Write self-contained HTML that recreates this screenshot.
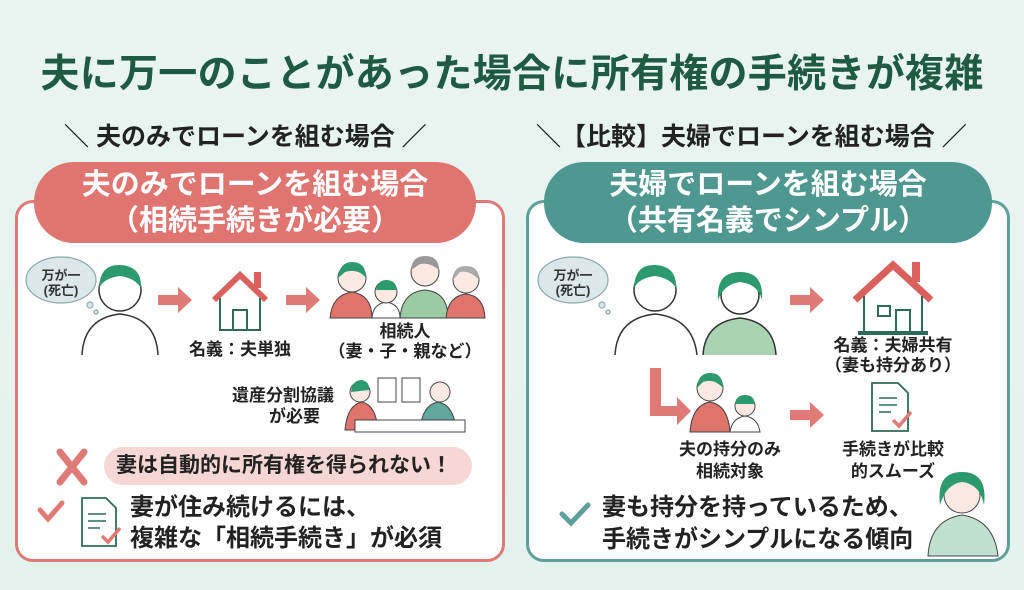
<!DOCTYPE html>
<html><head><meta charset="utf-8">
<style>
*{margin:0;padding:0;box-sizing:border-box}
body{width:1024px;height:590px;overflow:hidden;background:linear-gradient(180deg,#eaf5f1 0%,#e3f2ed 100%);font-family:"Liberation Sans","Noto Sans CJK JP",sans-serif;position:relative}
.a{position:absolute;white-space:nowrap}
.b{font-weight:bold}
.c{text-align:center}
</style></head><body>
<div class="a b c" style="left:0;width:1024px;top:51px;font-size:39px;line-height:48px;color:#1f5a45;letter-spacing:0.3px">夫に万一のことがあった場合に所有権の手続きが複雑</div>

<div class="a b" style="left:64px;top:121px;font-size:25px;line-height:32px;color:#222">＼ 夫のみでローンを組む場合 ／</div>
<div class="a b" style="left:536px;top:121px;font-size:25px;line-height:32px;color:#222">＼【比較】夫婦でローンを組む場合 ／</div>

<!-- panels -->
<div class="a" style="left:15px;top:200px;width:490px;height:362px;border:3px solid #e07a76;border-radius:18px;background:#fff"></div>
<div class="a" style="left:526px;top:200px;width:484px;height:362px;border:3px solid #5f9f99;border-radius:18px;background:#fff"></div>
<div class="a b c" style="left:34px;top:162px;width:442px;height:81px;border-radius:40px;background:#e07470;color:#fff;font-size:29px;line-height:36px;padding-top:5px">夫のみでローンを組む場合<br>（相続手続きが必要）</div>
<div class="a b c" style="left:544px;top:162px;width:448px;height:81px;border-radius:40px;background:#4f9891;color:#fff;font-size:29px;line-height:36px;padding-top:5px">夫婦でローンを組む場合<br>（共有名義でシンプル）</div>

<svg class="a" style="left:0;top:0" width="1024" height="590">
<g fill="#dbe7ea" stroke="#8aa" stroke-width="1.2">
<ellipse cx="61" cy="280" rx="35" ry="23"/><circle cx="90" cy="305" r="3"/><circle cx="96" cy="312" r="2"/>
<ellipse cx="573" cy="280" rx="35" ry="23"/><circle cx="602" cy="305" r="3"/><circle cx="608" cy="312" r="2"/>
</g>
<g stroke="#333" stroke-width="1.5" fill="#fff">
<path d="M82 355 Q84 318 120 314 Q156 318 158 355"/>
<circle cx="120" cy="290" r="21"/>
</g>
<path d="M99 288 Q100 264 120 265 Q142 266 141 288 Q135 278 120 276 Q104 278 99 288Z" fill="#2c9a6e"/>
<g fill="#e07a76">
<path d="M158 295h20v-8l14 13-14 13v-8h-20z"/>
<path d="M286 295h20v-8l14 13-14 13v-8h-20z"/>
<path d="M790 295h20v-8l14 13-14 13v-8h-20z"/>
<path d="M790 410h20v-8l14 13-14 13v-8h-20z"/>
<path d="M650 368h11v38h16v-9l14 14-14 14v-9h-27z"/>
</g>
<path d="M214 300 L240 275 L266 300" fill="none" stroke="#d9605c" stroke-width="6"/>
<rect x="254" y="272" width="7" height="16" fill="#d9605c"/>
<path d="M220 298v32h40v-32" fill="none" stroke="#2e6b5a" stroke-width="2"/>
<rect x="233" y="310" width="14" height="20" fill="none" stroke="#2e6b5a" stroke-width="2"/>
<g stroke="#444" stroke-width="1">
<path d="M330 318 Q332 295 352 292 Q372 295 372 318Z" fill="#e0736c"/>
<circle cx="352" cy="278" r="14" fill="#fbe9e2"/>
<path d="M372 318 Q373 304 386 302 Q400 304 400 318Z" fill="#fff"/>
<circle cx="386" cy="292" r="11" fill="#fbe9e2"/>
<path d="M400 318 Q402 292 425 290 Q448 292 448 318Z" fill="#9bcaa4"/>
<circle cx="425" cy="272" r="14" fill="#fbe9e2"/>
<path d="M446 318 Q448 296 466 294 Q484 296 485 318Z" fill="#e0736c"/>
<circle cx="466" cy="280" r="13" fill="#fbe9e2"/>
</g>
<path d="M338 278 Q340 262 352 262 Q366 262 366 278 Q358 268 345 272Z" fill="#2c9a6e"/>
<path d="M376 290 Q378 280 386 280 Q396 280 397 290Z" fill="#2c9a6e"/>
<path d="M411 270 Q412 256 425 256 Q439 256 439 270 Q430 262 420 264Z" fill="#999"/>
<path d="M453 280 Q453 266 466 266 Q479 266 479 280 Q470 270 460 272Z" fill="#aaa"/>
<g stroke="#444" stroke-width="1">
<rect x="378" y="378" width="18" height="24" fill="#fff"/><rect x="402" y="378" width="18" height="24" fill="#fff"/>
<path d="M345 430 Q347 405 362 402 Q376 405 378 430Z" fill="#e0736c"/>
<circle cx="360" cy="392" r="10" fill="#fbe9e2"/>
<path d="M420 430 Q422 405 438 402 Q454 405 456 430Z" fill="#5fa89a"/>
<circle cx="440" cy="392" r="10" fill="#fbe9e2"/>
<rect x="355" y="420" width="110" height="12" fill="#fff"/>
</g>
<path d="M351 392 Q352 380 362 380 Q370 382 369 390Z" fill="#2c9a6e"/>
<path d="M60 452 L84 482 M84 452 L60 482" stroke="#e07a76" stroke-width="7" stroke-linecap="round"/>
<path d="M40 510 l8 9 l14 -16" fill="none" stroke="#e07a76" stroke-width="5" stroke-linecap="round"/>
<path d="M562 514 l9 9 l17 -18" fill="none" stroke="#5f9f99" stroke-width="5" stroke-linecap="round"/>
<path d="M82 498h24l10 10v38h-34z" fill="#fff" stroke="#2e6b5a" stroke-width="1.8"/>
<path d="M88 514h18M88 521h18M88 528h12" stroke="#2e6b5a" stroke-width="1.5"/>
<path d="M102 536l6 6 12-14" fill="none" stroke="#e07a76" stroke-width="3.5"/>
<g stroke="#333" stroke-width="1.5">
<path d="M615 355 Q617 318 655 314 Q693 318 697 355" fill="#fff"/>
<circle cx="655" cy="290" r="21" fill="#fff"/>
<path d="M703 355 Q705 322 740 318 Q774 322 776 355" fill="#a9d3b2"/>
<circle cx="740" cy="295" r="19" fill="#fff"/>
</g>
<path d="M634 288 Q635 264 655 265 Q677 266 676 288 Q670 278 655 276 Q639 278 634 288Z" fill="#2c9a6e"/>
<path d="M718 300 Q716 272 740 272 Q764 272 762 300 Q758 284 740 282 Q724 284 718 300Z" fill="#2c9a6e"/>
<path d="M855 300 L893 265 L931 300" fill="none" stroke="#d9605c" stroke-width="7"/>
<rect x="912" y="262" width="8" height="20" fill="#d9605c"/>
<path d="M864 296v36h58v-36" fill="none" stroke="#2e6b5a" stroke-width="2"/>
<rect x="878" y="306" width="12" height="10" fill="none" stroke="#2e6b5a" stroke-width="2"/>
<rect x="896" y="310" width="14" height="22" fill="none" stroke="#2e6b5a" stroke-width="2"/>
<rect x="858" y="331" width="70" height="4" fill="#2e6b5a"/>
<g stroke="#444" stroke-width="1">
<path d="M690 432 Q692 405 710 402 Q728 405 730 432Z" fill="#e0736c"/>
<circle cx="710" cy="388" r="13" fill="#fbe9e2"/>
<path d="M730 432 Q732 418 745 416 Q758 418 760 432Z" fill="#fff"/>
<circle cx="745" cy="406" r="10" fill="#fbe9e2"/>
</g>
<path d="M697 388 Q698 373 710 373 Q723 373 723 388 Q714 378 703 382Z" fill="#2c9a6e"/>
<path d="M735 404 Q736 395 745 395 Q754 395 755 404Z" fill="#2c9a6e"/>
<path d="M872 383h26l10 10v38h-36z" fill="#fff" stroke="#2e6b5a" stroke-width="1.8"/>
<path d="M879 398h18M879 405h18M879 412h12" stroke="#2e6b5a" stroke-width="1.5"/>
<path d="M893 420l6 6 12-14" fill="none" stroke="#e07a76" stroke-width="3.5"/>
<g stroke="#444" stroke-width="1">
<path d="M928 556 Q930 520 962 515 Q994 520 998 556Z" fill="#bfe0cf"/>
<circle cx="962" cy="495" r="18" fill="#fbe9e2"/>
</g>
<path d="M940 505 Q936 472 962 472 Q988 472 984 505 Q980 484 962 482 Q946 484 940 505Z" fill="#2c9a6e"/>
</svg>

<div class="a b c" style="left:26px;top:268px;width:70px;font-size:13px;line-height:15px;color:#333">万が一<br>(死亡)</div>
<div class="a b c" style="left:538px;top:268px;width:70px;font-size:13px;line-height:15px;color:#333">万が一<br>(死亡)</div>

<div class="a b c" style="left:180px;top:340px;width:120px;font-size:17px;line-height:20px;color:#222">名義：夫単独</div>
<div class="a b c" style="left:315px;top:322px;width:180px;font-size:17px;line-height:20px;color:#222">相続人<br>（妻・子・親など）</div>
<div class="a b" style="left:218px;top:385px;width:116px;text-align:right;font-size:17px;line-height:21px;color:#222">遺産分割協議<br><span style="padding-right:14px">が必要</span></div>

<div class="a b" style="left:104px;top:447px;width:368px;height:38px;border-radius:19px;background:#f7d7d4;font-size:21px;line-height:38px;color:#222;padding-left:12px">妻は自動的に所有権を得られない！</div>
<div class="a b" style="left:130px;top:492px;font-size:24px;line-height:31px;color:#222">妻が住み続けるには、<br>複雑な「相続手続き」が必須</div>

<div class="a b c" style="left:818px;top:336px;width:150px;font-size:17px;line-height:20px;color:#222">名義：夫婦共有<br>（妻も持分あり）</div>
<div class="a b c" style="left:665px;top:439px;width:130px;font-size:17px;line-height:22px;color:#222">夫の持分のみ<br>相続対象</div>
<div class="a b c" style="left:828px;top:439px;width:130px;font-size:17px;line-height:22px;color:#222">手続きが比較<br>的スムーズ</div>
<div class="a b" style="left:602px;top:492px;font-size:24px;line-height:32px;color:#222">妻も持分を持っているため、<br>手続きがシンプルになる傾向</div>
</body></html>
